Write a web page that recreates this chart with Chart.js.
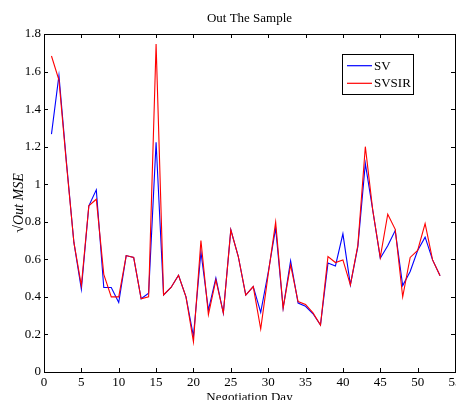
<!DOCTYPE html>
<html>
<head>
<meta charset="utf-8">
<script src="https://cdn.jsdelivr.net/npm/chart.js@4/dist/chart.umd.min.js"></script>
<style>
  html, body { margin: 0; padding: 0; background: #fff; }
  #wrap { width: 456px; height: 400px; position: relative; }
</style>
</head>
<body>
<div id="wrap"><canvas id="c" width="456" height="400"></canvas></div>
<script>
const days = Array.from({length: 53}, (_, i) => i + 1);
const sv = [1.267,1.58,1.12,0.69,0.44,0.885,0.97,0.45,0.45,0.37,0.62,0.61,0.39,0.42,1.223,0.41,0.45,0.515,0.40,0.19,0.64,0.33,0.50,0.314,0.757,0.615,0.41,0.455,0.317,0.53,0.766,0.34,0.592,0.367,0.35,0.31,0.25,0.58,0.565,0.736,0.464,0.668,1.11,0.86,0.606,0.672,0.753,0.46,0.535,0.647,0.718,0.597,0.512];
const svsir = [1.683,1.555,1.11,0.69,0.46,0.885,0.92,0.52,0.40,0.40,0.62,0.61,0.39,0.40,1.746,0.41,0.45,0.515,0.40,0.16,0.70,0.305,0.49,0.314,0.757,0.615,0.41,0.455,0.229,0.52,0.798,0.34,0.57,0.375,0.36,0.315,0.25,0.615,0.583,0.597,0.464,0.675,1.2,0.86,0.61,0.84,0.76,0.40,0.61,0.647,0.79,0.597,0.512];
const xTicks = [0,5,10,15,20,25,30,35,40,45,50,55];
const yTicks = [0,0.2,0.4,0.6,0.8,1,1.2,1.4,1.6,1.8];
const seriesNames = ['SV', 'SVSIR'];
const seriesColors = ['#0000ff', '#ff0000'];

const FONT = 'Liberation Serif, Times New Roman, serif';

const boxTicks = {
  id: 'boxTicks',
  afterDatasetsDraw(chart) {
    const {ctx, chartArea: a, scales} = chart;
    ctx.save();
    ctx.strokeStyle = '#000';
    ctx.lineWidth = 1;
    const L = 4;
    ctx.beginPath();
    xTicks.forEach(v => {
      const px = Math.round(scales.x.getPixelForValue(v)) + 0.5;
      ctx.moveTo(px, a.bottom); ctx.lineTo(px, a.bottom - L);
      ctx.moveTo(px, a.top); ctx.lineTo(px, a.top + L);
    });
    yTicks.forEach(v => {
      const py = Math.round(scales.y.getPixelForValue(v)) + 0.5;
      ctx.moveTo(a.left, py); ctx.lineTo(a.left + L, py);
      ctx.moveTo(a.right, py); ctx.lineTo(a.right - L, py);
    });
    ctx.stroke();
    ctx.strokeRect(Math.round(a.left) + 0.5, Math.round(a.top) + 0.5,
                   Math.round(a.right - a.left), Math.round(a.bottom - a.top));
    // legend box inside the axes
    const bx = 342.5, by = 54.5, bw = 71, bh = 40;
    ctx.fillStyle = '#fff';
    ctx.fillRect(bx, by, bw, bh);
    ctx.strokeRect(bx, by, bw, bh);
    ctx.font = '13px ' + FONT;
    ctx.textBaseline = 'middle';
    ctx.textAlign = 'left';
    chart.data.datasets.forEach((ds, i) => {
      const y = [65.7, 83.3][i];
      ctx.strokeStyle = ds.borderColor;
      ctx.lineWidth = 1.2;
      ctx.beginPath();
      ctx.moveTo(347, y); ctx.lineTo(372, y);
      ctx.stroke();
      ctx.fillStyle = '#000';
      ctx.fillText(ds.label, 374, y + 0.5);
    });
    ctx.restore();
  }
};

new Chart(document.getElementById('c'), {
  type: 'line',
  data: {
    labels: days,
    datasets: [
      { label: seriesNames[0], data: sv, borderColor: seriesColors[0], borderWidth: 1.1, pointRadius: 0, tension: 0, fill: false, order: 1 },
      { label: seriesNames[1], data: svsir, borderColor: seriesColors[1], borderWidth: 1.1, pointRadius: 0, tension: 0, fill: false, order: 0 }
    ]
  },
  options: {
    responsive: false,
    animation: false,
    devicePixelRatio: 1,
    layout: { padding: { left: 0, right: 1, top: 0, bottom: 0 } },
    plugins: {
      legend: { display: false },
      tooltip: { enabled: false },
      title: {
        display: true,
        fullSize: false,
        text: 'Out The Sample',
        color: '#000',
        font: { family: FONT, size: 13, weight: 'normal' },
        padding: { top: 11, bottom: 7.4 }
      }
    },
    scales: {
      x: {
        type: 'linear',
        min: 0, max: 55,
        grid: { display: false, drawTicks: false },
        border: { display: false },
        afterBuildTicks: s => { s.ticks = xTicks.map(v => ({value: v})); },
        afterFit: s => { s.height = 28; s.paddingLeft = 0; s.paddingRight = 0; },
        ticks: { color: '#000', font: { family: FONT, size: 13 }, padding: 3, maxRotation: 0, autoSkip: false },
        title: { display: true, text: 'Negotiation Day', color: '#000', font: { family: FONT, size: 13 }, padding: { top: 0, bottom: -5 } }
      },
      y: {
        min: 0, max: 1.8,
        grid: { display: false, drawTicks: false },
        border: { display: false },
        afterBuildTicks: s => { s.ticks = yTicks.map(v => ({value: v})); },
        afterFit: s => { s.width = 44; s.paddingTop = 0; s.paddingBottom = 0; },
        ticks: { color: '#000', font: { family: FONT, size: 13 }, padding: 3, autoSkip: false, callback: v => String(v) },
        title: { display: true, text: '√Out MSE', color: '#000', font: { family: FONT, size: 14, style: 'italic' }, padding: { top: 11, bottom: 0 } }
      }
    }
  },
  plugins: [boxTicks]
});
</script>
</body>
</html>
